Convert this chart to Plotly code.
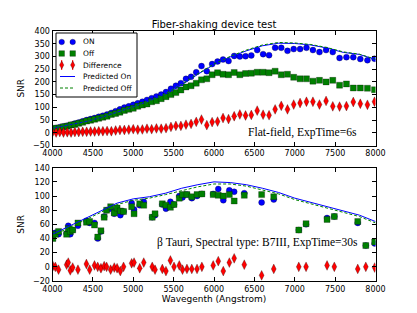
import plotly.graph_objects as go

# ---------------- Top panel: flat-field ----------------
wave_top = [4000, 4045, 4090, 4136, 4183, 4230, 4277, 4325, 4374, 4423, 4472, 4522, 4573, 4624, 4676,
            4729, 4782, 4835, 4890, 4945, 5000, 5056, 5113, 5170, 5228, 5287, 5346, 5406, 5467, 5528,
            5590, 5653, 5716, 5780, 5845, 5911, 5977, 6044, 6112, 6180, 6250, 6320, 6391, 6462, 6535,
            6608, 6682, 6757, 6833, 6910, 6987, 7066, 7145, 7225, 7306, 7388, 7471, 7555, 7640, 7725,
            7812, 7900, 7988]
on_top = [16, 19, 22, 25, 28, 32, 36, 40, 45, 50, 54, 58, 63, 67, 72,
          78, 85, 92, 99, 104, 110, 116, 122, 129, 136, 143, 150, 160, 173, 185,
          195, 212, 220, 238, 262, 242, 270, 280, 288, 282, 302, 300, 301, 304, 325,
          309, 305, 334, 334, 322, 329, 329, 334, 325, 317, 325, 317, 294, 297, 297,
          290, 285, 291]
off_top = [14, 18, 19, 24, 26, 31, 33, 37, 41, 46, 49, 53, 57, 61, 65,
           72, 76, 81, 88, 92, 96, 104, 109, 113, 122, 126, 134, 142, 150, 158,
           168, 180, 185, 195, 208, 212, 228, 236, 230, 228, 237, 228, 233, 234, 238,
           238, 236, 242, 228, 230, 218, 212, 212, 203, 206, 200, 206, 187, 192, 176,
           176, 175, 169]
diff_top = [2, 1, 3, 1, 2, 1, 3, 3, 4, 4, 5, 5, 6, 6, 7,
            6, 9, 11, 11, 12, 14, 12, 13, 16, 14, 17, 16, 18, 23, 27,
            27, 32, 35, 43, 52, 30, 42, 44, 58, 54, 65, 72, 68, 70, 87,
            71, 69, 92, 106, 92, 111, 117, 122, 122, 111, 125, 104, 103, 105, 121,
            114, 110, 122]
diff_err_top = [3] * len(diff_top)

pred_wave = [4000, 4200, 4400, 4600, 4800, 5000, 5200, 5400, 5600, 5800, 6000,
             6200, 6400, 6600, 6800, 7000, 7200, 7400, 7600, 7800, 8000]
pred_on_top = [18, 29, 43, 60, 80, 102, 126, 153, 188, 230, 268,
               298, 322, 342, 352, 351, 345, 333, 316, 308, 288]
pred_off_top = [18, 29, 43, 60, 80, 102, 126, 154, 190, 232, 270,
                300, 325, 345, 355, 353, 347, 335, 318, 309, 289]

# ---------------- Bottom panel: beta Tauri ----------------
wave_bot = [4005, 4035, 4075, 4175, 4195, 4220, 4250, 4315, 4420, 4460, 4520, 4560, 4600, 4640,
            4670, 4720, 4765, 4800, 4840, 4880, 4980, 5010, 5080, 5130, 5235, 5270, 5360, 5405,
            5460, 5505, 5570, 5610, 5665, 5725, 5790, 5850, 5990, 6053, 6115, 6190, 6250, 6375,
            6590, 6740, 7050, 7140, 7400, 7490, 7780, 7880, 7990]
on_bot = [42, 48, 46, 47, 58, 46, 52, 58, 65, 62, 62, 40, 50, 71,
          80, 82, 75, 80, 73, 78, 90, 81, 87, 92, 70, 73, 88, 82,
          92, 88, 100, 98, 102, 97, 100, 103, 103, 110, 94, 108, 106, 104,
          91, 95, 52, 60, 69, 71, 62, 30, 33]
off_bot = [40, 46, 50, 46, 54, 50, 52, 62, 63, 64, 59, 42, 51, 70,
           80, 85, 76, 83, 79, 78, 85, 75, 89, 87, 70, 75, 89, 87,
           84, 88, 97, 102, 102, 99, 102, 103, 102, 101, 100, 102, 93, 101,
           102, 99, 52, 61, 67, 71, 64, 30, 35]
diff_bot = [1, 0, -4, 3, 6, -5, -1, -4, 4, -4, 2, 0, -2, 1,
            0, -4, -1, -2, -6, 0, 5, 6, -2, 6, 0, -4, -3, -6,
            9, 0, 2, -4, -3, -3, -3, 0, 2, 8, -6, 6, 12, 3,
            -12, -3, 0, 0, 2, 0, -3, 0, -1]
diff_err_bot = [2] * len(diff_bot)

pred_on_bot = [46, 57, 69, 80, 90, 96, 99, 104, 111, 116, 120,
               119, 116, 111, 105, 97, 91, 85, 79, 73, 64]
pred_off_bot = [44, 55, 67, 78, 88, 94, 97, 102, 108, 113, 117,
                117, 114, 109, 103, 95, 89, 83, 77, 71, 62]

legend_labels = ["ON", "Off", "Difference", "Predicted On", "Predicted Off"]

BLUE = "#0000ff"
GREEN = "#008000"
RED = "#ff0000"
EDGE_C = "rgba(0,0,0,0.55)"
EDGE = dict(color=EDGE_C, width=0.5)

W, H = 417, 313

fig = go.Figure()

def add_panel(xa, ya, wave, on, off, diff, err, pon, poff):
    fig.add_trace(go.Scatter(x=wave, y=on, mode="markers", name=legend_labels[0], xaxis=xa, yaxis=ya,
                             marker=dict(symbol="circle", size=6, color=BLUE, line=EDGE),
                             showlegend=False))
    fig.add_trace(go.Scatter(x=wave, y=off, mode="markers", name=legend_labels[1], xaxis=xa, yaxis=ya,
                             marker=dict(symbol="square", size=6, color=GREEN, line=EDGE),
                             showlegend=False))
    fig.add_trace(go.Scatter(x=wave, y=diff, mode="markers", name=legend_labels[2], xaxis=xa, yaxis=ya,
                             marker=dict(symbol="diamond-tall", size=7, color=RED, line=EDGE),
                             error_y=dict(type="data", array=err, color=RED, thickness=1, width=0),
                             showlegend=False))
    fig.add_trace(go.Scatter(x=pred_wave, y=pon, mode="lines", name=legend_labels[3], xaxis=xa, yaxis=ya,
                             line=dict(color=BLUE, width=1), showlegend=False))
    fig.add_trace(go.Scatter(x=pred_wave, y=poff, mode="lines", name=legend_labels[4], xaxis=xa, yaxis=ya,
                             line=dict(color=GREEN, width=1, dash="3px,2px"), showlegend=False))

add_panel("x", "y", wave_top, on_top, off_top, diff_top, diff_err_top, pred_on_top, pred_off_top)
add_panel("x2", "y2", wave_bot, on_bot, off_bot, diff_bot, diff_err_bot, pred_on_bot, pred_off_bot)

# ---------------- hand-built legend (matplotlib style, two markers per entry) ----------------
def px(x):
    return x / W

def py(y):
    return 1 - y / H

shapes = [dict(type="rect", xref="paper", yref="paper", x0=px(56), x1=px(137), y0=py(97), y1=py(33),
               line=dict(color="black", width=1), fillcolor="white", layer="above")]
annots = []
rows = [42, 53.5, 65, 76.5, 88]
mx = [61.7, 72.7]
for i, lab in enumerate(legend_labels):
    cy = rows[i]
    if i == 0:
        for cx in mx:
            r = 2.8
            shapes.append(dict(type="circle", xref="paper", yref="paper", x0=px(cx - r), x1=px(cx + r),
                               y0=py(cy + r), y1=py(cy - r), fillcolor=BLUE, line=EDGE))
    elif i == 1:
        for cx in mx:
            r = 2.8
            shapes.append(dict(type="rect", xref="paper", yref="paper", x0=px(cx - r), x1=px(cx + r),
                               y0=py(cy + r), y1=py(cy - r), fillcolor=GREEN, line=EDGE))
    elif i == 2:
        for cx in mx:
            shapes.append(dict(type="line", xref="paper", yref="paper", x0=px(cx), x1=px(cx),
                               y0=py(cy + 5), y1=py(cy - 5), line=dict(color=RED, width=1)))
            path = "M {a},{b} L {c},{d} L {a},{e} L {f},{d} Z".format(
                a=px(cx), b=py(cy - 4), c=px(cx + 2.2), d=py(cy), e=py(cy + 4), f=px(cx - 2.2))
            shapes.append(dict(type="path", xref="paper", yref="paper", path=path,
                               fillcolor=RED, line=EDGE))
    elif i == 3:
        shapes.append(dict(type="line", xref="paper", yref="paper", x0=px(60), x1=px(75),
                           y0=py(cy), y1=py(cy), line=dict(color=BLUE, width=1)))
    else:
        shapes.append(dict(type="line", xref="paper", yref="paper", x0=px(60), x1=px(75),
                           y0=py(cy), y1=py(cy), line=dict(color=GREEN, width=1, dash="3px,2px")))
    annots.append(dict(text=lab, xref="paper", yref="paper", x=px(81), y=py(cy),
                       xanchor="left", yanchor="middle", showarrow=False,
                       font=dict(family="DejaVu Sans", size=7.5, color="black")))

annots += [
    dict(text="Flat-field, ExpTime=6s", xref="x", yref="y", x=7090, y=3,
         showarrow=False, font=dict(family="Liberation Serif", size=11.6, color="black")),
    dict(text="β Tauri, Spectral type: B7III, ExpTime=30s", xref="x2", yref="y2", x=6539, y=35,
         showarrow=False, font=dict(family="Liberation Serif", size=11.5, color="black")),
]

xdom = [52.5 / W, 375.5 / W]
ax_common = dict(showline=True, linecolor="black", linewidth=1, mirror="allticks",
                 ticks="inside", ticklen=4, tickcolor="black", showgrid=False, zeroline=False,
                 tickfont=dict(family="DejaVu Sans", size=8, color="black"), automargin=False)

fig.update_layout(
    width=W, height=H,
    margin=dict(l=0, r=0, t=0, b=0),
    paper_bgcolor="white", plot_bgcolor="white",
    showlegend=False,
    title=dict(text="Fiber-shaking device test", x=214 / W, xanchor="center",
               y=1 - 24 / H, yanchor="middle",
               font=dict(family="DejaVu Sans", size=10, color="black")),
    xaxis=dict(domain=xdom, range=[4000, 8000], dtick=500, anchor="y", **ax_common),
    yaxis=dict(domain=[1 - 145.5 / H, 1 - 31 / H], range=[-50, 400], dtick=50, anchor="x",
               title=dict(text="SNR", standoff=6, font=dict(family="DejaVu Sans", size=9, color="black")),
               **ax_common),
    xaxis2=dict(domain=xdom, range=[4000, 8000], dtick=500, anchor="y2",
                title=dict(text="Wavegenth (Angstrom)", standoff=1,
                           font=dict(family="DejaVu Sans", size=9, color="black")),
                **ax_common),
    yaxis2=dict(domain=[1 - 281 / H, 1 - 167.7 / H], range=[-20, 140], dtick=20, anchor="x2",
                title=dict(text="SNR", standoff=6, font=dict(family="DejaVu Sans", size=9, color="black")),
                **ax_common),
    shapes=shapes,
    annotations=annots,
)

fig.write_html("out.html", config={"displayModeBar": False},
               post_script="document.body.style.margin='0';document.body.style.overflow='hidden';")
